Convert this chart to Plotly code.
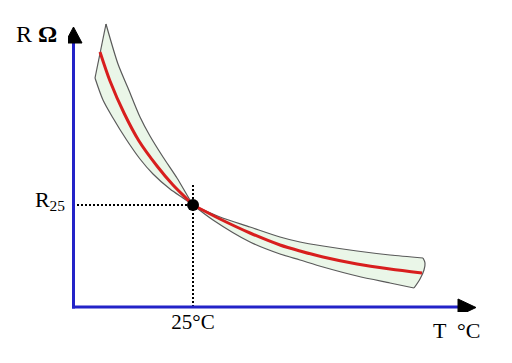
import plotly.graph_objects as go

# ---- data (T along x, R along y; origin at the axes corner) ----
t25 = 120
r25 = 102
x_tick_vals = [t25]
x_tick_text = ["25°C"]
y_tick_vals = [r25]
y_tick_text = ["R<sub>25</sub>"]

# nominal R(T) curve (the point at index 7 is the R25 point)
red_t = [27, 37, 51, 66, 84, 100, 114, 120, 147, 177, 207, 227, 250, 284, 317, 349]
red_r = [255, 226, 194, 166, 141, 122, 108, 102, 88, 74, 62, 56, 50, 43, 38, 34]

# tolerance band edges (index 8 is the R25 crossing)
tolA_t = [33, 45, 55, 67, 77, 90, 104, 114, 120, 140, 177, 207, 227, 250, 284, 317, 341]
tolA_r = [283, 243, 219, 190, 171, 150, 129, 112, 102, 87, 65, 53, 47, 40, 31, 24, 19]

tolB_t = [22, 30, 40, 53, 67, 80, 97, 110, 120, 147, 177, 207, 227, 250, 284, 317, 350]
tolB_r = [229, 207, 189, 168, 148, 133, 118, 109, 102, 90, 80, 70, 65, 61, 56, 52, 49]

cap_t = [341, 347, 351, 352, 350]
cap_r = [19, 28, 37, 44, 49]

# ---- layout constants ----
W, H = 512, 363
ML, MR, MT, MB = 68, 22, 15, 51
XR = [-5, 417]
YR = [-5, 292]
axis_t_max = 385
axis_r_max = 264
head_len = 16
head_half = 8.5

BLUE = "#2323c8"
RED = "#d81e1e"
FILL = "#eaf6e8"
EDGE = "#5a5a5a"
FONT = "Liberation Serif"

pw = W - ML - MR
ph = H - MT - MB


def paper_x(px):
    return (px - ML) / pw


def paper_y(py):
    return (H - MB - py) / ph


fig = go.Figure()

# filled tolerance band
poly_t = tolA_t + cap_t[1:] + tolB_t[::-1][1:] + [tolA_t[0]]
poly_r = tolA_r + cap_r[1:] + tolB_r[::-1][1:] + [tolA_r[0]]
fig.add_trace(go.Scatter(x=poly_t, y=poly_r, mode="lines", fill="toself",
                         fillcolor=FILL, line=dict(width=0), hoverinfo="skip"))


def split_at(tt, rr, k):
    return [(tt[:k + 1], rr[:k + 1]), (tt[k:], rr[k:])]


# band edges
for tt, rr in split_at(tolA_t, tolA_r, 8) + split_at(tolB_t, tolB_r, 8):
    fig.add_trace(go.Scatter(x=tt, y=rr, mode="lines",
                             line=dict(color=EDGE, width=1.2, shape="spline", smoothing=0.8)))
fig.add_trace(go.Scatter(x=cap_t, y=cap_r, mode="lines",
                         line=dict(color=EDGE, width=1.2, shape="spline")))
fig.add_trace(go.Scatter(x=[tolA_t[0], tolB_t[0]], y=[tolA_r[0], tolB_r[0]], mode="lines",
                         line=dict(color=EDGE, width=1.2)))

# dotted reference lines
fig.add_trace(go.Scatter(x=[0, t25], y=[r25, r25], mode="lines",
                         line=dict(color="black", width=2, dash="2px,2px")))
fig.add_trace(go.Scatter(x=[t25, t25], y=[0, r25 + 20], mode="lines",
                         line=dict(color="black", width=2, dash="2px,2px")))

# nominal curve
for tt, rr in split_at(red_t, red_r, 7):
    fig.add_trace(go.Scatter(x=tt, y=rr, mode="lines",
                             line=dict(color=RED, width=3, shape="spline", smoothing=0.8)))

# R25 point
fig.add_trace(go.Scatter(x=[t25], y=[r25], mode="markers",
                         marker=dict(color="black", size=12), cliponaxis=False))

# axes lines
fig.add_trace(go.Scatter(x=[0.5, 0.5], y=[-1.5, axis_r_max], mode="lines",
                         line=dict(color=BLUE, width=3)))
fig.add_trace(go.Scatter(x=[-1, axis_t_max], y=[0, 0], mode="lines",
                         line=dict(color=BLUE, width=3)))
# arrow heads
fig.add_trace(go.Scatter(x=[0.5 - head_half, 0.5 + head_half, 0.5, 0.5 - head_half],
                         y=[axis_r_max, axis_r_max, axis_r_max + head_len, axis_r_max],
                         mode="lines", fill="toself", fillcolor="black",
                         line=dict(color="black", width=1)))
fig.add_trace(go.Scatter(x=[axis_t_max, axis_t_max, axis_t_max + head_len + 2, axis_t_max],
                         y=[-head_half - 0.5, head_half - 0.5, -0.5, -head_half - 0.5],
                         mode="lines", fill="toself", fillcolor="black",
                         line=dict(color="black", width=1)))

fig.add_annotation(x=paper_x(59), y=paper_y(34), xref="paper", yref="paper",
                   text="R <b>Ω</b>", showarrow=False, xanchor="right", yanchor="middle",
                   font=dict(family=FONT, size=24, color="black"))
fig.add_annotation(x=paper_x(457), y=paper_y(330), xref="paper", yref="paper",
                   text="T  °C", showarrow=False, xanchor="center", yanchor="middle",
                   font=dict(family=FONT, size=22, color="black"))

fig.update_layout(
    width=W, height=H,
    margin=dict(l=ML, r=MR, t=MT, b=MB),
    paper_bgcolor="white", plot_bgcolor="white",
    showlegend=False,
    hovermode=False,
    xaxis=dict(range=XR, showgrid=False, zeroline=False, showline=False,
               tickvals=x_tick_vals, ticktext=x_tick_text, ticks="",
               ticklabelstandoff=-5,
               tickfont=dict(family=FONT, size=21, color="black"), fixedrange=True),
    yaxis=dict(range=YR, showgrid=False, zeroline=False, showline=False,
               tickvals=y_tick_vals, ticktext=y_tick_text, ticks="",
               ticklabelshift=-6, ticklabelstandoff=2,
               tickfont=dict(family=FONT, size=22, color="black"), fixedrange=True),
)

fig.write_html("out.html", config={"displayModeBar": False},
               post_script="document.body.style.margin='0px';")
